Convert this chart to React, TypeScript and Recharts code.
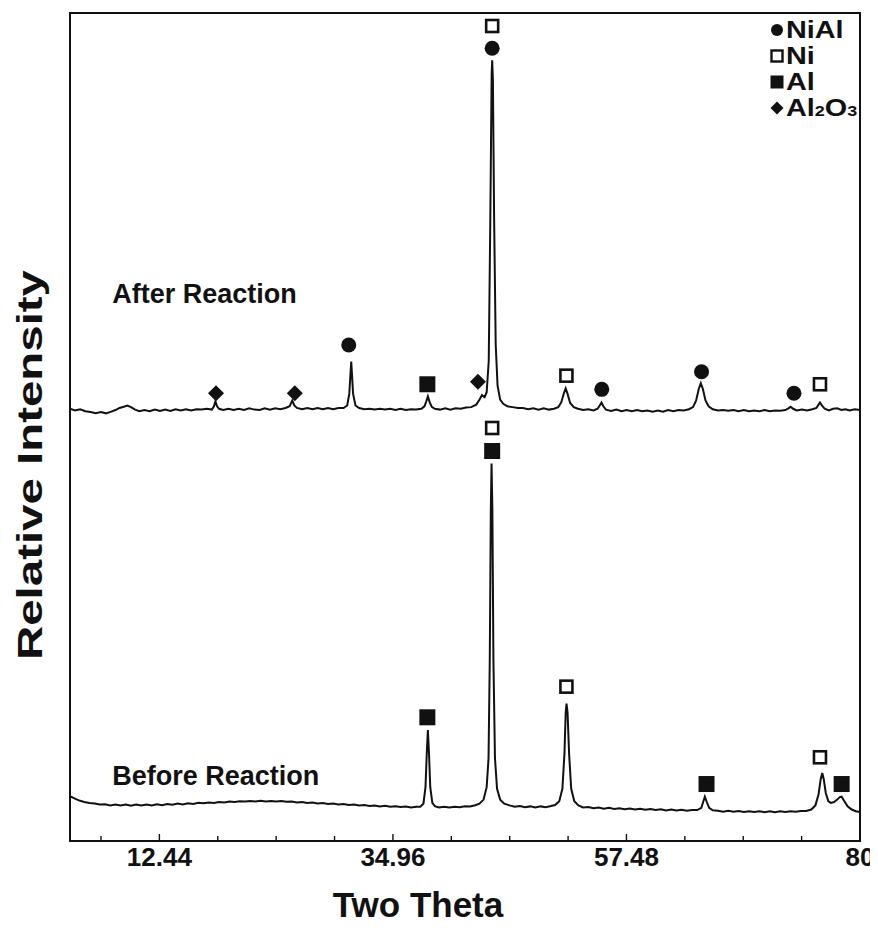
import React from 'react';
import {
  ComposedChart,
  Line,
  Scatter,
  XAxis,
  YAxis,
  ReferenceArea,
  ReferenceDot,
  Legend,
  Label,
} from 'recharts';

// ---- axis ----
const X_MIN = 3.82;
const X_MAX = 80;
const majorTicks = [12.44, 34.96, 57.48, 80];
const minorTicks = [6.81, 18.07, 23.7, 29.33, 40.59, 46.22, 51.85, 63.11, 68.74, 74.37];

// ---- XRD traces: [two theta, relative intensity] ----
const afterReaction: [number, number][] = [
  [3.82, 52.2], [4.3, 52.0], [4.8, 52.15], [5.3, 51.9], [5.8, 51.8], [6.3, 51.65], [6.8, 51.8], [7.3, 51.65],
  [7.8, 51.85], [8.2, 52.05], [8.6, 52.3], [9.0, 52.45], [9.35, 52.6], [9.7, 52.4], [10.1, 52.1], [10.5, 51.9],
  [11.0, 52.05], [11.5, 51.9], [12.0, 52.1], [12.5, 51.95], [13.0, 52.1], [13.5, 51.95], [14.0, 52.15], [14.5, 52.0],
  [15.0, 52.15], [15.5, 52.0], [16.0, 52.15], [16.5, 52.1], [17.0, 52.2], [17.5, 52.1], [17.7, 52.5], [17.84, 53.1],
  [18.0, 52.5], [18.2, 52.2], [18.6, 52.05], [19.1, 52.2], [19.6, 52.05], [20.1, 52.2], [20.6, 52.05], [21.1, 52.25],
  [21.6, 52.1], [22.1, 52.05], [22.6, 52.25], [23.1, 52.1], [23.6, 52.25], [24.1, 52.15], [24.6, 52.3], [25.0, 52.5],
  [25.25, 53.2], [25.45, 52.6], [25.7, 52.3], [26.2, 52.15], [26.7, 52.3], [27.2, 52.15], [27.7, 52.3], [28.2, 52.15],
  [28.7, 52.3], [29.2, 52.15], [29.7, 52.3], [30.2, 52.3], [30.55, 52.6], [30.75, 54.0], [30.94, 57.9], [31.12, 54.0],
  [31.35, 52.6], [31.7, 52.3], [32.2, 52.15], [32.7, 52.2], [33.2, 52.1], [33.7, 52.2], [34.2, 52.1], [34.7, 52.2],
  [35.2, 52.05], [35.7, 52.2], [36.2, 52.05], [36.7, 52.15], [37.2, 52.1], [37.7, 52.2], [38.0, 52.5], [38.18, 53.1],
  [38.33, 53.7], [38.5, 53.0], [38.7, 52.45], [39.0, 52.2], [39.5, 52.1], [40.0, 52.25], [40.5, 52.1], [41.0, 52.25],
  [41.5, 52.2], [42.0, 52.35], [42.5, 52.4], [43.0, 52.7], [43.3, 53.3], [43.55, 53.85], [43.8, 53.6], [44.0, 54.2],
  [44.2, 58.0], [44.35, 75.0], [44.48, 92.5], [44.53, 94.3], [44.6, 92.0], [44.72, 75.0], [44.87, 60.0], [45.05, 55.0],
  [45.3, 53.3], [45.6, 52.8], [46.0, 52.5], [46.5, 52.4], [47.0, 52.3], [47.5, 52.3], [48.0, 52.15], [48.5, 52.25],
  [49.0, 52.1], [49.5, 52.25], [50.0, 52.1], [50.5, 52.2], [50.9, 52.4], [51.2, 53.0], [51.45, 54.1], [51.62, 54.65],
  [51.8, 54.0], [52.05, 52.9], [52.4, 52.4], [52.8, 52.2], [53.3, 52.05], [53.8, 52.15], [54.3, 52.0], [54.7, 52.2],
  [54.9, 52.6], [55.07, 52.95], [55.25, 52.5], [55.5, 52.1], [56.0, 51.95], [56.5, 52.1], [57.0, 51.9], [57.5, 52.05],
  [58.0, 51.9], [58.5, 52.05], [59.0, 51.9], [59.5, 52.0], [60.0, 51.85], [60.5, 52.0], [61.0, 51.85], [61.5, 52.05],
  [62.0, 51.9], [62.5, 52.05], [63.0, 52.0], [63.5, 52.15], [63.9, 52.4], [64.2, 53.2], [64.45, 54.6], [64.65, 55.3],
  [64.85, 54.6], [65.1, 53.2], [65.4, 52.5], [65.8, 52.15], [66.3, 52.0], [66.8, 52.05], [67.3, 51.95], [67.8, 52.05],
  [68.3, 51.9], [68.8, 52.05], [69.3, 51.9], [69.8, 52.0], [70.3, 51.9], [70.8, 52.05], [71.3, 51.9], [71.8, 52.0],
  [72.3, 51.95], [72.8, 52.05], [73.1, 52.25], [73.31, 52.45], [73.55, 52.2], [73.9, 52.0], [74.4, 52.1], [74.9, 52.0],
  [75.4, 52.15], [75.8, 52.3], [76.0, 52.7], [76.14, 52.95], [76.3, 52.65], [76.6, 52.2], [77.0, 52.0], [77.4, 52.2],
  [77.8, 52.25], [78.2, 52.05], [78.6, 52.15], [79.0, 52.0], [79.5, 52.15], [80.0, 52.05],
];

const beforeReaction: [number, number][] = [
  [3.82, 5.4], [4.1, 5.25], [4.4, 5.05], [4.8, 4.85], [5.2, 4.72], [5.7, 4.58], [6.2, 4.52], [6.7, 4.4],
  [7.2, 4.45], [7.7, 4.3], [8.2, 4.42], [8.7, 4.28], [9.2, 4.4], [9.7, 4.26], [10.2, 4.4], [10.7, 4.28],
  [11.2, 4.42], [11.7, 4.3], [12.2, 4.44], [12.7, 4.33], [13.2, 4.48], [13.7, 4.37], [14.2, 4.52], [14.7, 4.42],
  [15.2, 4.56], [15.7, 4.48], [16.2, 4.62], [16.7, 4.55], [17.2, 4.64], [17.7, 4.6], [18.2, 4.72], [18.7, 4.65],
  [19.2, 4.78], [19.7, 4.7], [20.2, 4.8], [20.7, 4.76], [21.2, 4.84], [21.7, 4.77], [22.2, 4.86], [22.7, 4.78],
  [23.2, 4.84], [23.7, 4.76], [24.2, 4.82], [24.7, 4.73], [25.2, 4.77], [25.7, 4.66], [26.2, 4.71], [26.7, 4.58],
  [27.2, 4.64], [27.7, 4.52], [28.2, 4.58], [28.7, 4.46], [29.2, 4.52], [29.7, 4.4], [30.2, 4.46], [30.7, 4.34],
  [31.2, 4.4], [31.7, 4.28], [32.2, 4.35], [32.7, 4.24], [33.2, 4.3], [33.7, 4.18], [34.2, 4.25], [34.7, 4.14],
  [35.2, 4.21], [35.7, 4.1], [36.2, 4.17], [36.7, 4.06], [37.2, 4.14], [37.6, 4.15], [37.9, 4.5], [38.1, 6.5],
  [38.22, 10.5], [38.33, 13.4], [38.44, 10.5], [38.56, 6.5], [38.76, 4.6], [39.0, 4.2], [39.4, 4.05], [39.9, 4.14],
  [40.4, 4.04], [40.9, 4.14], [41.4, 4.08], [41.9, 4.2], [42.4, 4.18], [42.9, 4.32], [43.3, 4.5], [43.7, 5.0],
  [44.0, 6.5], [44.18, 10.0], [44.3, 22.0], [44.4, 40.0], [44.47, 45.6], [44.55, 40.0], [44.65, 22.0], [44.8, 10.0],
  [45.0, 6.3], [45.3, 5.0], [45.7, 4.5], [46.2, 4.3], [46.7, 4.15], [47.2, 4.22], [47.7, 4.08], [48.2, 4.18],
  [48.7, 4.06], [49.2, 4.18], [49.7, 4.08], [50.2, 4.22], [50.6, 4.35], [51.0, 4.8], [51.3, 6.3], [51.5, 10.5],
  [51.62, 15.5], [51.7, 16.6], [51.8, 15.5], [51.95, 10.5], [52.15, 6.3], [52.45, 4.8], [52.85, 4.3], [53.3, 4.05],
  [53.8, 4.1], [54.3, 3.95], [54.8, 4.04], [55.3, 3.9], [55.8, 4.0], [56.3, 3.86], [56.8, 3.96], [57.3, 3.84],
  [57.8, 3.93], [58.3, 3.8], [58.8, 3.9], [59.3, 3.78], [59.8, 3.87], [60.3, 3.74], [60.8, 3.84], [61.3, 3.7],
  [61.8, 3.8], [62.3, 3.68], [62.8, 3.77], [63.3, 3.66], [63.8, 3.74], [64.3, 3.74], [64.7, 4.0], [64.9, 4.8],
  [65.04, 5.35], [65.2, 4.8], [65.45, 4.0], [65.8, 3.7], [66.3, 3.64], [66.8, 3.54], [67.3, 3.64], [67.8, 3.52],
  [68.3, 3.62], [68.8, 3.5], [69.3, 3.6], [69.8, 3.49], [70.3, 3.6], [70.8, 3.48], [71.3, 3.6], [71.8, 3.48],
  [72.3, 3.6], [72.8, 3.5], [73.3, 3.6], [73.8, 3.52], [74.3, 3.62], [74.8, 3.62], [75.3, 3.8], [75.7, 4.3],
  [76.0, 5.6], [76.2, 7.4], [76.36, 8.2], [76.5, 7.5], [76.7, 5.8], [76.95, 4.8], [77.2, 4.6], [77.5, 4.7],
  [77.8, 5.0], [78.05, 5.3], [78.23, 5.35], [78.45, 4.9], [78.8, 4.2], [79.2, 3.8], [79.6, 3.6], [80.0, 3.5],
];

// ---- phase markers: [two theta, marker height] ----
const niAlMarks: [number, number][] = [
  [30.7, 59.9], [44.53, 95.74], [55.1, 54.55], [64.72, 56.68], [73.63, 54.07],
];
const niMarks: [number, number][] = [
  [44.53, 98.43], [51.69, 56.2], [76.14, 55.16],
  [44.53, 49.88], [51.69, 18.64], [76.14, 10.11],
];
const alMarks: [number, number][] = [
  [38.28, 55.16], [38.28, 14.94], [44.53, 47.1], [65.2, 6.88], [78.23, 6.88],
];
const al2o3Marks: [number, number][] = [
  [17.9, 54.07], [25.5, 54.07], [43.16, 55.47],
];

const toPts = (arr: [number, number][]) => arr.map(([x, y]) => ({ x, y }));

const FONT = "'Liberation Sans', Arial, Helvetica, sans-serif";
const INK = '#111';

const CircleShape = (p: any) => <circle cx={p.cx} cy={p.cy} r={7.5} fill={INK} />;
const OpenSquareShape = (p: any) => (
  <rect x={p.cx - 6} y={p.cy - 6} width={12} height={12} fill="#fff" stroke={INK} strokeWidth={2.6} />
);
const FilledSquareShape = (p: any) => (
  <rect x={p.cx - 8} y={p.cy - 8} width={16} height={16} fill={INK} />
);
const DiamondShape = (p: any) => (
  <path d={`M${p.cx},${p.cy - 8} L${p.cx + 8},${p.cy} L${p.cx},${p.cy + 8} L${p.cx - 8},${p.cy} Z`} fill={INK} />
);

const AxisTick = (props: any) => {
  const { x, y, payload } = props;
  const v = payload.value;
  const isMajor = majorTicks.some((m) => Math.abs(m - v) < 1e-6);
  return (
    <g>
      <line x1={x} x2={x} y1={y} y2={y - (isMajor ? 7 : 5)} stroke={INK} strokeWidth={1.4} />
      {isMajor && (
        <text x={x} y={y + 25} textAnchor="middle" fontFamily={FONT} fontWeight={700} fontSize={26} fill={INK}>
          {String(v)}
        </text>
      )}
    </g>
  );
};

const legendItems = [
  { key: 'niAl', icon: 'circle' },
  { key: 'ni', icon: 'open' },
  { key: 'al', icon: 'filled' },
  { key: 'al2o3', icon: 'diamond' },
];

const LegendIcon = ({ kind }: { kind: string }) => (
  <svg width={16} height={16} style={{ display: 'block', flex: '0 0 auto' }}>
    {kind === 'circle' && <circle cx={8} cy={8} r={6} fill={INK} />}
    {kind === 'open' && <rect x={2.5} y={2.5} width={11} height={11} fill="#fff" stroke={INK} strokeWidth={2.4} />}
    {kind === 'filled' && <rect x={1.5} y={1.5} width={13} height={13} fill={INK} />}
    {kind === 'diamond' && <path d="M8,1.5 L14.5,8 L8,14.5 L1.5,8 Z" fill={INK} />}
  </svg>
);

const LegendLabel = ({ k }: { k: string }) => {
  if (k === 'niAl') return <span>NiAl</span>;
  if (k === 'ni') return <span>Ni</span>;
  if (k === 'al') return <span>Al</span>;
  return (
    <span>
      Al<span style={{ fontSize: 15 }}>2</span>O<span style={{ fontSize: 15 }}>3</span>
    </span>
  );
};

const LegendContent = () => (
  <div style={{ fontFamily: FONT, fontWeight: 700, fontSize: 24, color: INK }}>
    {legendItems.map((it) => (
      <div key={it.key} style={{ display: 'flex', alignItems: 'center', height: 26, lineHeight: '24px' }}>
        <LegendIcon kind={it.icon} />
        <div
          style={{
            marginLeft: 1,
            whiteSpace: 'nowrap',
            lineHeight: '24px',
            height: 24,
            transform: 'scaleX(1.2)',
            transformOrigin: 'left center',
          }}
        >
          <LegendLabel k={it.key} />
        </div>
      </div>
    ))}
  </div>
);

export default function App() {
  return (
    <div style={{ width: 870, height: 920 }}>
      <ComposedChart width={870} height={920} margin={{ top: 5, right: 18, bottom: 27, left: 0 }}>
        <XAxis
          type="number"
          dataKey="x"
          domain={[X_MIN, X_MAX]}
          allowDataOverflow
          ticks={[...majorTicks, ...minorTicks].sort((a, b) => a - b)}
          interval={0}
          tickSize={0}
          tickMargin={0}
          tickLine={false}
          tick={<AxisTick />}
          height={60}
          axisLine={{ stroke: INK, strokeWidth: 2.2 }}
        >
          <Label
            content={() => (
              <text x={410} y={909} textAnchor="middle" fontFamily={FONT} fontWeight={700} fontSize={35} fill={INK}>
                Two Theta
              </text>
            )}
          />
        </XAxis>
        <YAxis
          type="number"
          domain={[0, 100]}
          allowDataOverflow
          width={62}
          tick={false}
          tickLine={false}
          axisLine={{ stroke: INK, strokeWidth: 2 }}
        >
          <Label
            content={() => (
              <text
                transform="translate(34,457) rotate(-90)"
                textAnchor="middle"
                fontFamily={FONT}
                fontWeight={700}
                fontSize={35}
                fill={INK}
                textLength={390}
                lengthAdjust="spacingAndGlyphs"
              >
                Relative Intensity
              </text>
            )}
          />
        </YAxis>
        <ReferenceArea x1={X_MIN} x2={X_MAX} y1={0} y2={100} fill="none" stroke={INK} strokeWidth={2} ifOverflow="visible" />
        <Line
          data={toPts(beforeReaction)}
          dataKey="y"
          type="linear"
          stroke={INK}
          strokeWidth={2}
          dot={false}
          activeDot={false}
          isAnimationActive={false}
        />
        <Line
          data={toPts(afterReaction)}
          dataKey="y"
          type="linear"
          stroke={INK}
          strokeWidth={2}
          dot={false}
          activeDot={false}
          isAnimationActive={false}
        />
        <Scatter data={toPts(niAlMarks)} dataKey="y" shape={CircleShape} isAnimationActive={false} />
        <Scatter data={toPts(niMarks)} dataKey="y" shape={OpenSquareShape} isAnimationActive={false} />
        <Scatter data={toPts(alMarks)} dataKey="y" shape={FilledSquareShape} isAnimationActive={false} />
        <Scatter data={toPts(al2o3Marks)} dataKey="y" shape={DiamondShape} isAnimationActive={false} />
        <ReferenceDot
          x={7.9}
          y={66.18}
          r={0}
          fill="none"
          stroke="none"
          ifOverflow="visible"
          label={{ value: 'After Reaction', position: 'right', offset: 0, fontSize: 27, fontWeight: 700, fontFamily: FONT, fill: INK }}
        />
        <ReferenceDot
          x={7.9}
          y={7.97}
          r={0}
          fill="none"
          stroke="none"
          ifOverflow="visible"
          label={{ value: 'Before Reaction', position: 'right', offset: 0, fontSize: 27, fontWeight: 700, fontFamily: FONT, fill: INK }}
        />
        <Legend
          layout="vertical"
          align="center"
          verticalAlign="middle"
          wrapperStyle={{ top: 9, left: 761, width: 110, height: 104 }}
          content={LegendContent}
        />
      </ComposedChart>
    </div>
  );
}
